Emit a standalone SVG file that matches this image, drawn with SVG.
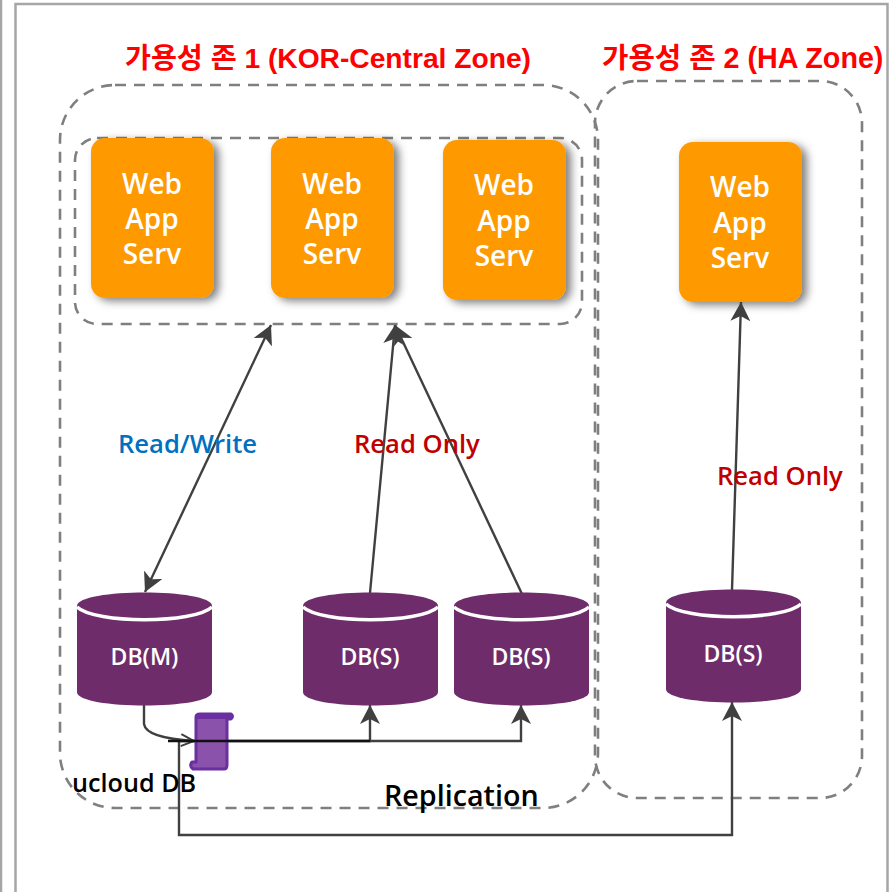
<svg xmlns="http://www.w3.org/2000/svg" width="895" height="892" viewBox="0 0 895 892">
<style>
.frame{fill:none;stroke:#a6a6a6;stroke-width:2.5}
.zone{fill:none;stroke:#7f7f7f;stroke-width:2.6;stroke-dasharray:11 8}
.srv{fill:#ff9900;filter:url(#sh)}
.srvt{font-family:"Open Sans","Noto Sans",sans-serif;font-size:28px;font-weight:600;fill:#fff;text-anchor:middle}
.dbb{fill:#6f2c6b}
.dbl{fill:none;stroke:#fff;stroke-width:3.5}
.dbt{font-family:"Open Sans","Noto Sans",sans-serif;font-size:23px;font-weight:600;fill:#fff;text-anchor:middle}
.title{font-family:"Liberation Sans","Noto Sans CJK KR",sans-serif;font-size:28.200px;font-weight:700;fill:#ff0000}
.lab{font-family:"Open Sans","Noto Sans",sans-serif;font-size:25.600px;font-weight:600}
.blk{font-family:"Open Sans","Noto Sans",sans-serif;font-weight:600;fill:#000}
.c{fill:none;stroke:#404040;stroke-width:2.4}
</style>
<defs>
<filter id="sh" x="-20%" y="-15%" width="145%" height="135%"><feDropShadow dx="5" dy="3" stdDeviation="4" flood-color="#000" flood-opacity="0.5"/></filter>
<marker id="a" markerUnits="userSpaceOnUse" markerWidth="22" markerHeight="20" refX="19" refY="10" orient="auto-start-reverse"><path d="M0 0L19 10L0 20L5 10Z" fill="#404040"/></marker>
<marker id="o" markerUnits="userSpaceOnUse" markerWidth="16" markerHeight="14" refX="14" refY="7" orient="auto"><path d="M1 1L14 7L1 13" fill="none" stroke="#404040" stroke-width="2"/></marker>
</defs>
<rect width="895" height="892" fill="#fff"/>
<g id="frame">
<path class="frame" d="M1 0V892M15.500 892V4H887.500V892"/>
</g>
<g id="zone-1"><rect class="zone" x="60" y="85" width="538" height="723" rx="55"/></g>
<g id="zone-2"><rect class="zone" x="595" y="81" width="267" height="717" rx="42"/></g>
<g id="web-group"><rect class="zone" x="75" y="138" width="507" height="186" rx="22"/></g>
<g id="titles">
<text class="title" x="125" y="68">가용성 존 1 (KOR-Central Zone)</text>
<text class="title" x="602" y="68" style="font-size:28.700px">가용성 존 2 (HA Zone)</text>
</g>
<g id="web-1"><rect class="srv" x="91" y="138" width="123" height="160" rx="14"/><text class="srvt" x="152" y="194">Web</text><text class="srvt" x="152" y="229">App</text><text class="srvt" x="152" y="264">Serv</text></g>
<g id="web-2"><rect class="srv" x="271" y="138" width="123" height="160" rx="14"/><text class="srvt" x="332" y="194">Web</text><text class="srvt" x="332" y="229">App</text><text class="srvt" x="332" y="264">Serv</text></g>
<g id="web-3"><rect class="srv" x="443" y="140" width="123" height="160" rx="14"/><text class="srvt" x="504" y="195">Web</text><text class="srvt" x="504" y="231">App</text><text class="srvt" x="504" y="266">Serv</text></g>
<g id="web-4"><rect class="srv" x="679" y="142" width="123" height="160" rx="14"/><text class="srvt" x="740" y="197">Web</text><text class="srvt" x="740" y="233">App</text><text class="srvt" x="740" y="268">Serv</text></g>
<g id="connectors">
<path class="c" marker-start="url(#a)" marker-end="url(#a)" d="M145 592L271 325"/>
<path class="c" marker-end="url(#a)" d="M370 593L395 325"/>
<path class="c" marker-end="url(#a)" d="M522 594L395 325"/>
<path class="c" marker-end="url(#a)" d="M732 590L741 302"/>
<path class="c" marker-end="url(#o)" d="M144 705V724Q146 738 194 741"/>
<path class="c" marker-end="url(#a)" d="M178 741H370V705"/>
<path class="c" marker-end="url(#a)" d="M370 741H521V705"/>
<path class="c" marker-end="url(#a)" d="M179 741V835H732V702"/>
</g>
<g id="db-m"><path class="dbb" d="M77 606C77 588 212 588 212 606V692C212 710 77 710 77 692Z"/><path class="dbl" d="M77 607C95 624 194 624 212 607"/><text class="dbt" x="144.500" y="665">DB(M)</text></g>
<g id="db-s1"><path class="dbb" d="M303 606C303 588 438 588 438 606V692C438 710 303 710 303 692Z"/><path class="dbl" d="M303 607C321 624 420 624 438 607"/><text class="dbt" x="370" y="665">DB(S)</text></g>
<g id="db-s2"><path class="dbb" d="M454 606C454 588 589 588 589 606V692C589 710 454 710 454 692Z"/><path class="dbl" d="M454 607C472 624 571 624 589 607"/><text class="dbt" x="521" y="665">DB(S)</text></g>
<g id="db-s3"><path class="dbb" d="M666 603C666 585 801 585 801 603V689C801 707 666 707 666 689Z"/><path class="dbl" d="M666 604C684 621 783 621 801 604"/><text class="dbt" x="733" y="662">DB(S)</text></g>
<g id="ucloud-icon">
<path d="M196 717Q196 714 200 714H231Q234 716 231 719H227V765Q227 769 224 769H193Q189 766 192 762H196Z" fill="#8a52ab" stroke="#6b2fa0" stroke-width="3" stroke-linejoin="round"/>
<path d="M196 719V714H231V719Z" fill="#6b2fa0"/>
</g>
<path d="M168 741H370" fill="none" stroke="#111" stroke-width="2.400"/>
<g id="labels">
<text class="lab" x="118" y="453" fill="#0070c0">Read/Write</text>
<text class="lab" x="354" y="453" fill="#c00000">Read Only</text>
<text class="lab" x="717" y="485" fill="#c00000">Read Only</text>
<text class="blk" x="72" y="792" font-size="25.200">ucloud DB</text>
<text class="blk" x="384" y="806" font-size="28.700">Replication</text>
</g>
</svg>
